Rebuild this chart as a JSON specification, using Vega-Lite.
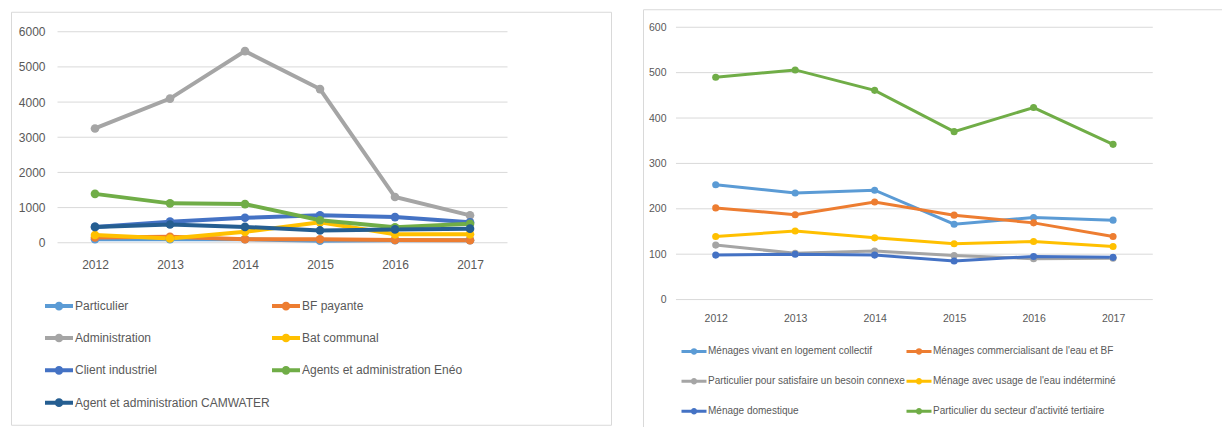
{
  "$schema": "https://vega.github.io/schema/vega-lite/v6.json",
  "padding": {"left": 10, "top": 6, "right": 0, "bottom": 0},
  "background": "white",
  "spacing": 30,
  "center": true,
  "config": {
    "font": "Liberation Sans",
    "view": {"stroke": "#D9D9D9", "strokeWidth": 1},
    "axis": {"domain": false, "ticks": false, "grid": false, "labelColor": "#595959", "labelFont": "Liberation Sans", "labelFlush": false, "labelOverlap": false, "title": null},
    "legend": {"labelColor": "#595959", "labelFont": "Liberation Sans", "title": null, "padding": 0}
  },
  "datasets": {
    "left": [
      {"serie": "Particulier", "annee": 2012, "valeur": 100},
      {"serie": "Particulier", "annee": 2013, "valeur": 100},
      {"serie": "Particulier", "annee": 2014, "valeur": 100},
      {"serie": "Particulier", "annee": 2015, "valeur": 60},
      {"serie": "Particulier", "annee": 2016, "valeur": 70},
      {"serie": "Particulier", "annee": 2017, "valeur": 70},
      {"serie": "BF payante", "annee": 2012, "valeur": 150},
      {"serie": "BF payante", "annee": 2013, "valeur": 170},
      {"serie": "BF payante", "annee": 2014, "valeur": 100},
      {"serie": "BF payante", "annee": 2015, "valeur": 100},
      {"serie": "BF payante", "annee": 2016, "valeur": 80},
      {"serie": "BF payante", "annee": 2017, "valeur": 70},
      {"serie": "Administration", "annee": 2012, "valeur": 3250},
      {"serie": "Administration", "annee": 2013, "valeur": 4100},
      {"serie": "Administration", "annee": 2014, "valeur": 5450},
      {"serie": "Administration", "annee": 2015, "valeur": 4370},
      {"serie": "Administration", "annee": 2016, "valeur": 1300},
      {"serie": "Administration", "annee": 2017, "valeur": 780},
      {"serie": "Bat communal", "annee": 2012, "valeur": 220},
      {"serie": "Bat communal", "annee": 2013, "valeur": 120},
      {"serie": "Bat communal", "annee": 2014, "valeur": 310},
      {"serie": "Bat communal", "annee": 2015, "valeur": 580},
      {"serie": "Bat communal", "annee": 2016, "valeur": 240},
      {"serie": "Bat communal", "annee": 2017, "valeur": 240},
      {"serie": "Client industriel", "annee": 2012, "valeur": 450},
      {"serie": "Client industriel", "annee": 2013, "valeur": 600},
      {"serie": "Client industriel", "annee": 2014, "valeur": 710},
      {"serie": "Client industriel", "annee": 2015, "valeur": 780},
      {"serie": "Client industriel", "annee": 2016, "valeur": 730},
      {"serie": "Client industriel", "annee": 2017, "valeur": 580},
      {"serie": "Agents et administration Enéo", "annee": 2012, "valeur": 1390},
      {"serie": "Agents et administration Enéo", "annee": 2013, "valeur": 1120},
      {"serie": "Agents et administration Enéo", "annee": 2014, "valeur": 1100},
      {"serie": "Agents et administration Enéo", "annee": 2015, "valeur": 640},
      {"serie": "Agents et administration Enéo", "annee": 2016, "valeur": 440},
      {"serie": "Agents et administration Enéo", "annee": 2017, "valeur": 540},
      {"serie": "Agent et administration CAMWATER", "annee": 2012, "valeur": 450},
      {"serie": "Agent et administration CAMWATER", "annee": 2013, "valeur": 520},
      {"serie": "Agent et administration CAMWATER", "annee": 2014, "valeur": 450},
      {"serie": "Agent et administration CAMWATER", "annee": 2015, "valeur": 350},
      {"serie": "Agent et administration CAMWATER", "annee": 2016, "valeur": 380},
      {"serie": "Agent et administration CAMWATER", "annee": 2017, "valeur": 400}
    ],
    "right": [
      {"serie": "Ménages vivant en logement collectif", "annee": 2012, "valeur": 253},
      {"serie": "Ménages vivant en logement collectif", "annee": 2013, "valeur": 235},
      {"serie": "Ménages vivant en logement collectif", "annee": 2014, "valeur": 241},
      {"serie": "Ménages vivant en logement collectif", "annee": 2015, "valeur": 166},
      {"serie": "Ménages vivant en logement collectif", "annee": 2016, "valeur": 181},
      {"serie": "Ménages vivant en logement collectif", "annee": 2017, "valeur": 175},
      {"serie": "Ménages commercialisant de l'eau et BF", "annee": 2012, "valeur": 202},
      {"serie": "Ménages commercialisant de l'eau et BF", "annee": 2013, "valeur": 187},
      {"serie": "Ménages commercialisant de l'eau et BF", "annee": 2014, "valeur": 215},
      {"serie": "Ménages commercialisant de l'eau et BF", "annee": 2015, "valeur": 186},
      {"serie": "Ménages commercialisant de l'eau et BF", "annee": 2016, "valeur": 169},
      {"serie": "Ménages commercialisant de l'eau et BF", "annee": 2017, "valeur": 139},
      {"serie": "Particulier pour satisfaire un besoin connexe", "annee": 2012, "valeur": 120},
      {"serie": "Particulier pour satisfaire un besoin connexe", "annee": 2013, "valeur": 102},
      {"serie": "Particulier pour satisfaire un besoin connexe", "annee": 2014, "valeur": 107},
      {"serie": "Particulier pour satisfaire un besoin connexe", "annee": 2015, "valeur": 97},
      {"serie": "Particulier pour satisfaire un besoin connexe", "annee": 2016, "valeur": 90},
      {"serie": "Particulier pour satisfaire un besoin connexe", "annee": 2017, "valeur": 91},
      {"serie": "Ménage avec usage de l'eau indéterminé", "annee": 2012, "valeur": 139},
      {"serie": "Ménage avec usage de l'eau indéterminé", "annee": 2013, "valeur": 151},
      {"serie": "Ménage avec usage de l'eau indéterminé", "annee": 2014, "valeur": 136},
      {"serie": "Ménage avec usage de l'eau indéterminé", "annee": 2015, "valeur": 123},
      {"serie": "Ménage avec usage de l'eau indéterminé", "annee": 2016, "valeur": 128},
      {"serie": "Ménage avec usage de l'eau indéterminé", "annee": 2017, "valeur": 117},
      {"serie": "Ménage domestique", "annee": 2012, "valeur": 98},
      {"serie": "Ménage domestique", "annee": 2013, "valeur": 100},
      {"serie": "Ménage domestique", "annee": 2014, "valeur": 98},
      {"serie": "Ménage domestique", "annee": 2015, "valeur": 85},
      {"serie": "Ménage domestique", "annee": 2016, "valeur": 95},
      {"serie": "Ménage domestique", "annee": 2017, "valeur": 93},
      {"serie": "Particulier du secteur  d'activité tertiaire", "annee": 2012, "valeur": 490},
      {"serie": "Particulier du secteur  d'activité tertiaire", "annee": 2013, "valeur": 506},
      {"serie": "Particulier du secteur  d'activité tertiaire", "annee": 2014, "valeur": 461},
      {"serie": "Particulier du secteur  d'activité tertiaire", "annee": 2015, "valeur": 370},
      {"serie": "Particulier du secteur  d'activité tertiaire", "annee": 2016, "valeur": 423},
      {"serie": "Particulier du secteur  d'activité tertiaire", "annee": 2017, "valeur": 342}
    ],
    "gridLeft": [{"v": 0}, {"v": 1000}, {"v": 2000}, {"v": 3000}, {"v": 4000}, {"v": 5000}, {"v": 6000}],
    "gridRight": [{"v": 0}, {"v": 100}, {"v": 200}, {"v": 300}, {"v": 400}, {"v": 500}, {"v": 600}]
  },
  "resolve": {"scale": {"x": "independent", "y": "independent", "color": "independent"}, "legend": {"color": "independent"}},
  "hconcat": [
    {
      "width": 600,
      "height": 413,
      "title": {"text": " ", "fontSize": 1, "offset": 4},
      "layer": [
        {
          "data": {"name": "gridLeft"},
          "mark": {"type": "rule", "color": "#D9D9D9", "strokeWidth": 1},
          "encoding": {
            "y": {"field": "v", "type": "quantitative", "scale": {"domain": [-5175.4, 6568.7], "nice": false, "zero": false}},
            "x": {"datum": 2011.5, "type": "quantitative", "scale": {"domain": [2010.88, 2018.88], "nice": false, "zero": false}},
            "x2": {"datum": 2017.5}
          }
        },
        {
          "data": {"name": "left"},
          "mark": {"type": "line", "strokeWidth": 4},
          "encoding": {
            "x": {"field": "annee", "type": "quantitative", "axis": {"values": [2012, 2013, 2014, 2015, 2016, 2017], "format": "d", "labelFontSize": 12, "labelPadding": 0, "offset": -165}},
            "y": {"field": "valeur", "type": "quantitative", "axis": {"values": [0, 1000, 2000, 3000, 4000, 5000, 6000], "format": "d", "labelFontSize": 12, "labelPadding": 0, "offset": -34}},
            "color": {
              "field": "serie", "type": "nominal",
              "scale": {"domain": ["Particulier", "BF payante", "Administration", "Bat communal", "Client industriel", "Agents et administration Enéo", "Agent et administration CAMWATER"],
                        "range": ["#5B9BD5", "#ED7D31", "#A5A5A5", "#FFC000", "#4472C4", "#70AD47", "#255E91"]},
              "legend": {"orient": "none", "legendX": 32, "legendY": 278, "columns": 2, "direction": "horizontal", "labelFontSize": 12, "labelLimit": 400, "labelOffset": 0, "columnPadding": -13, "rowPadding": 5.3, "symbolSize": 784, "symbolStrokeWidth": 4, "symbolType": "M-1,0L1,0M0.165,0A0.165,0.165,0,1,1,-0.165,0A0.165,0.165,0,1,1,0.165,0Z"}
            }
          }
        },
        {
          "data": {"name": "left"},
          "mark": {"type": "point", "filled": true, "opacity": 1, "size": 75},
          "encoding": {
            "x": {"field": "annee", "type": "quantitative"},
            "y": {"field": "valeur", "type": "quantitative"},
            "color": {"field": "serie", "type": "nominal", "legend": null}
          }
        }
      ]
    },
    {
      "width": 581,
      "height": 418,
      "layer": [
        {
          "data": {"name": "gridRight"},
          "mark": {"type": "rule", "color": "#D9D9D9", "strokeWidth": 1},
          "encoding": {
            "y": {"field": "v", "type": "quantitative", "scale": {"domain": [-281.3, 639.66], "nice": false, "zero": false}},
            "x": {"datum": 2011.5, "type": "quantitative", "scale": {"domain": [2011.085, 2018.396], "nice": false, "zero": false}},
            "x2": {"datum": 2017.5}
          }
        },
        {
          "data": {"name": "right"},
          "mark": {"type": "line", "strokeWidth": 3},
          "encoding": {
            "x": {"field": "annee", "type": "quantitative", "axis": {"values": [2012, 2013, 2014, 2015, 2016, 2017], "format": "d", "labelFontSize": 10.5, "labelPadding": 0, "offset": -114}},
            "y": {"field": "valeur", "type": "quantitative", "axis": {"values": [0, 100, 200, 300, 400, 500, 600], "format": "d", "labelFontSize": 10.5, "labelPadding": 0, "offset": -23}},
            "color": {
              "field": "serie", "type": "nominal",
              "scale": {"domain": ["Ménages vivant en logement collectif", "Ménages commercialisant de l'eau et BF", "Particulier pour satisfaire un besoin connexe", "Ménage avec usage de l'eau indéterminé", "Ménage domestique", "Particulier du secteur  d'activité tertiaire"],
                        "range": ["#5B9BD5", "#ED7D31", "#A5A5A5", "#FFC000", "#4472C4", "#70AD47"]},
              "legend": {"orient": "none", "legendX": 37, "legendY": 328, "columns": 2, "direction": "horizontal", "labelFontSize": 10, "labelLimit": 400, "labelOffset": 0, "columnPadding": -12, "rowPadding": 8, "symbolSize": 625, "symbolStrokeWidth": 3, "symbolType": "M-1,0L1,0M0.14,0A0.14,0.14,0,1,1,-0.14,0A0.14,0.14,0,1,1,0.14,0Z"}
            }
          }
        },
        {
          "data": {"name": "right"},
          "mark": {"type": "point", "filled": true, "opacity": 1, "size": 50},
          "encoding": {
            "x": {"field": "annee", "type": "quantitative"},
            "y": {"field": "valeur", "type": "quantitative"},
            "color": {"field": "serie", "type": "nominal", "legend": null}
          }
        }
      ]
    }
  ]
}
